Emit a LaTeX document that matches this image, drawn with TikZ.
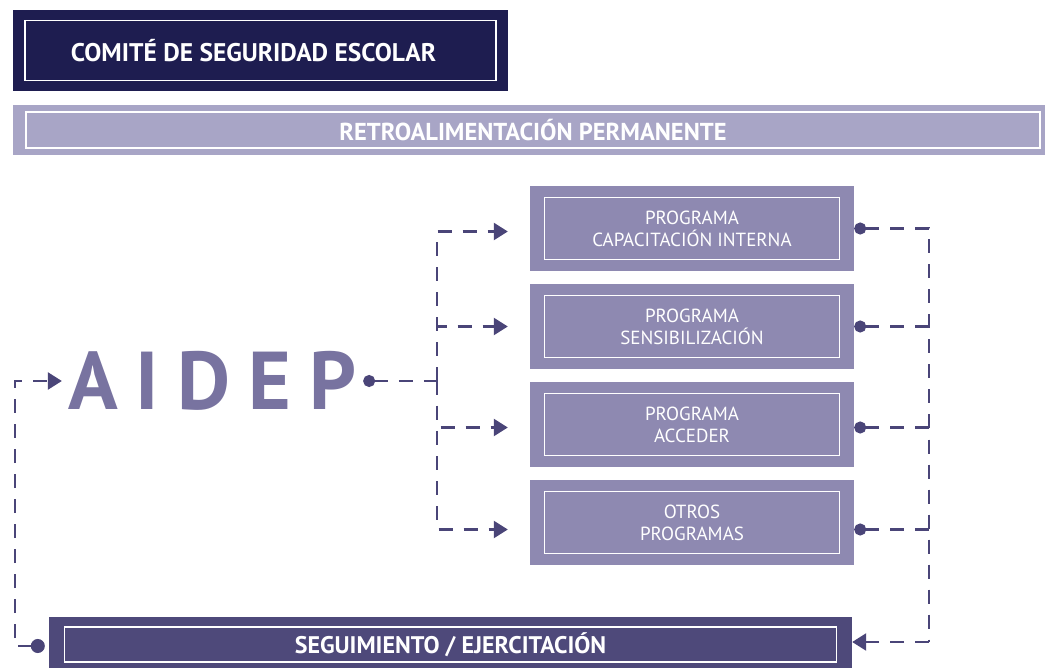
\documentclass[tikz,border=0pt]{standalone}
\usepackage{fontspec}
\setmainfont{PT Sans}
\newfontfamily\logofont[LetterSpace=22]{PT Sans}
\usetikzlibrary{arrows.meta,calc}
\definecolor{navy}{RGB}{30,29,80}
\definecolor{lavender}{RGB}{168,165,198}
\definecolor{progbox}{RGB}{142,137,177}
\definecolor{seguim}{RGB}{78,73,122}
\definecolor{logo}{RGB}{120,115,160}
\definecolor{linkcol}{RGB}{74,69,120}
\tikzset{
	panel/.style n args={3}{fill=#1, inner sep=0pt, align=center, text=white,
		path picture={\draw[white, line width=1.3pt] ([shift={(#2,-#3)}]path picture bounding box.north west) rectangle ([shift={(-#2,#3)}]path picture bounding box.south east);}},
	progbox/.style={panel={progbox}{14.5pt}{11.5pt}, minimum width=324pt, minimum height=85pt, font=\fontsize{19}{22}\selectfont},
	link/.style={draw=linkcol, line width=2.4pt, dash pattern=on 14pt off 11pt},
	linkdot/.tip={Circle[length=12pt]},
	linkhead/.tip={Triangle[length=14pt,width=17pt]},
}

\begin{document}
\begin{tikzpicture}[x=1pt,y=-1pt]
			%%%%% START %%%%%
			
			\useasboundingbox (0,0) rectangle (1045,668);
			\fill[white] (0,0) rectangle (1045,668);
			\clip (0,0) rectangle (1045,668);
			
			\node[panel={navy}{12pt}{10.5pt}, minimum width=495pt, minimum height=81pt, font=\bfseries\fontsize{25.5}{28}\selectfont] (comite) at (260.5, 50.5) {\hspace*{-14pt}COMITÉ DE SEGURIDAD ESCOLAR};
			\node[panel={lavender}{13pt}{7pt}, minimum width=1040pt, minimum height=50pt, font=\bfseries\fontsize{24.5}{26}\selectfont] (retro) at (533, 130) {RETROALIMENTACIÓN PERMANENTE};
			
			\node[progbox] (p1) at (692, 228.5) {PROGRAMA\\CAPACITACIÓN INTERNA};
			\node[progbox] (p2) at (692, 326.5) {PROGRAMA\\SENSIBILIZACIÓN};
			\node[progbox] (p3) at (692, 424.5) {PROGRAMA\\ACCEDER};
			\node[progbox] (p4) at (692, 522.5) {OTROS\\PROGRAMAS};
			
			\node[text=logo, inner sep=0pt, font=\logofont\bfseries\fontsize{82}{82}\selectfont] (aidep) at (212, 381) {AIDEP};
			
			\node[panel={seguim}{15.5pt}{10pt}, minimum width=803pt, minimum height=55pt, font=\bfseries\fontsize{24}{25}\selectfont] (seg) at (450.5, 644.5) {SEGUIMIENTO / EJERCITACIÓN};
			
			\coordinate (jn) at (437, 381);
			\coordinate (lloop) at (15, 381);
			\coordinate (rloop) at (929, 642);
			
			% aidep to the programs
			\draw[link, {linkdot}-] ([xshift=7pt]aidep.east) -- (jn);
			\draw[link, -{linkhead}, shorten >=22pt] (jn) |- ([yshift=-3pt]p1.west);
			\draw[link, -{linkhead}, shorten >=22pt] (jn) |- (p2.west);
			\draw[link, -{linkhead}, shorten >=22pt] (jn) |- ([yshift=-3pt]p3.west);
			\draw[link, -{linkhead}, shorten >=22pt] (jn) |- ([yshift=-7pt]p4.west);
			
			% programs to seguimiento
			\draw[link, {linkdot}-] (p1.east) -| (rloop);
			\draw[link, {linkdot}-] (p2.east) -- (p2.east -| rloop);
			\draw[link, {linkdot}-] ([yshift=-3pt]p3.east) -- ([yshift=-3pt]p3.east -| rloop);
			\draw[link, {linkdot}-] ([yshift=-7pt]p4.east) -- ([yshift=-7pt]p4.east -| rloop);
			\draw[link, -{linkhead}] (rloop) -- (seg.east |- rloop);
			
			% back to aidep
			\draw[link, {Circle[length=14pt]}-{linkhead}] ([xshift=-4pt,yshift=-1.5pt]seg.west) -| (lloop) -- ([xshift=-6pt]aidep.west);
			
			%%%%% END %%%%%
\end{tikzpicture}
\end{document}
